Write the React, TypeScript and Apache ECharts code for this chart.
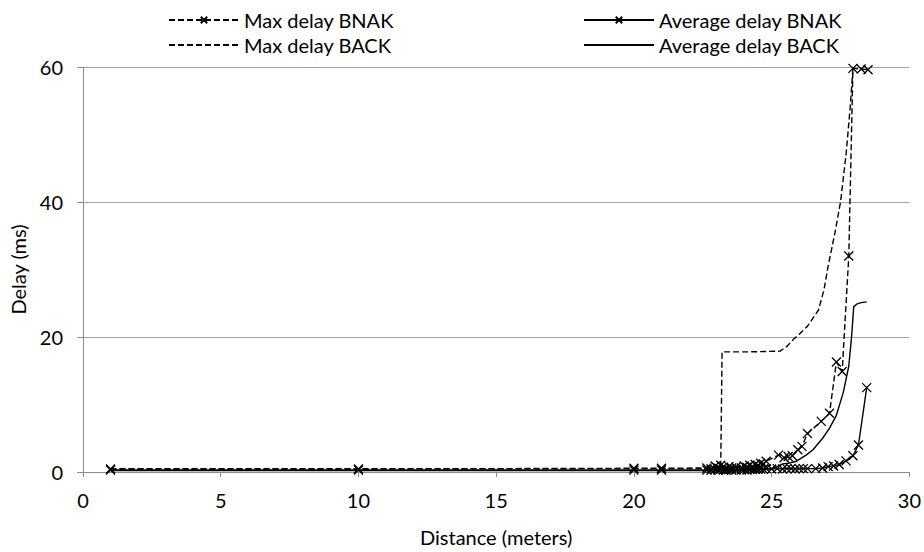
import React, { useEffect, useRef } from "react";
import * as echarts from "echarts";

const maxBnakX = [1, 10, 20, 21, 22.65, 22.8, 22.95, 23.05, 23.15, 23.25, 23.35, 23.45, 23.55, 23.7, 23.9, 24.0, 24.1, 24.2, 24.3, 24.4, 24.5, 24.6, 24.7, 24.8, 25.25, 25.45, 25.6, 25.75, 25.95, 26.1, 26.3, 26.8, 27.1, 27.35, 27.56, 27.8, 27.95, 28.25, 28.5];
const maxBnakY = [0.45, 0.45, 0.55, 0.55, 0.6, 0.5, 0.9, 0.6, 1.0, 0.7, 0.5, 0.8, 0.6, 0.7, 0.6, 0.9, 0.7, 1.0, 0.8, 1.1, 1.0, 1.3, 1.2, 1.6, 2.5, 2.1, 2.3, 2.4, 3.3, 3.8, 5.7, 7.5, 8.7, 16.3, 14.9, 32, 59.8, 59.7, 59.6];

const avgBnakX = [1, 10, 20, 21, 22.65, 22.8, 22.95, 23.05, 23.15, 23.25, 23.35, 23.45, 23.55, 23.7, 23.9, 24.0, 24.1, 24.2, 24.3, 24.4, 24.5, 24.6, 24.7, 24.8, 25.0, 25.2, 25.4, 25.55, 25.7, 25.85, 26.0, 26.15, 26.3, 26.6, 26.85, 27.05, 27.25, 27.45, 27.7, 27.95, 28.15, 28.45];
const avgBnakY = [0.3, 0.3, 0.3, 0.3, 0.3, 0.25, 0.35, 0.3, 0.4, 0.3, 0.25, 0.35, 0.3, 0.3, 0.3, 0.35, 0.3, 0.4, 0.35, 0.4, 0.4, 0.45, 0.4, 0.5, 0.45, 0.5, 0.45, 0.5, 0.5, 0.45, 0.5, 0.5, 0.5, 0.5, 0.6, 0.8, 0.9, 1.1, 1.65, 2.4, 4.0, 12.5];

const maxBackX = [1, 10, 20, 21, 22.7, 23.15, 23.2, 24.2, 25.3, 25.55, 25.8, 26.0, 26.3, 26.7, 26.9, 27.05, 27.3, 27.5, 27.7, 27.85, 27.95];
const maxBackY = [0.5, 0.5, 0.5, 0.5, 0.5, 0.5, 17.8, 17.8, 17.9, 18.6, 19.7, 20.4, 21.6, 24.0, 27.0, 30.5, 35.5, 40, 47, 54, 59.8];

const avgBackX = [1, 10, 20, 21, 22.7, 23.5, 24.3, 24.8, 25.1, 25.4, 25.6, 25.9, 26.25, 26.5, 26.85, 27.1, 27.35, 27.6, 27.8, 27.9, 27.98, 28.1, 28.25, 28.45];
const avgBackY = [0.2, 0.2, 0.2, 0.2, 0.2, 0.25, 0.3, 0.4, 0.6, 1.2, 1.3, 1.6, 2.5, 3.3, 5.0, 6.5, 8.4, 11.8, 15.7, 20, 24.5, 24.9, 25.1, 25.2];

const seriesNames = ["Max delay BNAK", "Average delay BNAK", "Max delay BACK", "Average delay BACK"];
const xTicks = { min: 0, max: 30, interval: 5 };
const yTicks = { min: 0, max: 60, interval: 20 };

const zip = (xs: number[], ys: number[]) => xs.map((x, i) => [x, ys[i]]);

const FONT = "Lato";
const CROSS = "path://M0,0L10,10M10,0L0,10";

export default function App() {
  const ref = useRef<HTMLDivElement>(null);
  useEffect(() => {
    if (!ref.current) return;
    const chart = echarts.init(ref.current, undefined, { renderer: "svg" });
    const legendBase = {
      orient: "horizontal",
      itemWidth: 70,
      itemHeight: 8,
      itemGap: 0,
      padding: 0,
      textStyle: { fontFamily: FONT, fontSize: 20, color: "#000", lineHeight: 24 },
    };
    const hidden = { opacity: 0, color: "transparent", borderWidth: 0 };
    chart.setOption({
      animation: false,
      backgroundColor: "#fff",
      textStyle: { fontFamily: FONT },
      legend: [
        { ...legendBase, left: 168, top: 8, data: [seriesNames[0]] },
        { ...legendBase, left: 168, top: 33, data: [{ name: seriesNames[2], itemStyle: hidden }] },
        { ...legendBase, left: 583, top: 8, data: [seriesNames[1]] },
        { ...legendBase, left: 583, top: 33, data: [{ name: seriesNames[3], itemStyle: hidden }] },
      ],
      grid: { left: 80, right: 14, top: 67, bottom: 75, containLabel: false },
      xAxis: {
        type: "value",
        ...xTicks,
        name: "Distance (meters)",
        nameLocation: "middle",
        nameGap: 55,
        nameTextStyle: { fontFamily: FONT, fontSize: 20, color: "#000" },
        axisLine: { show: true, lineStyle: { color: "#8c8c8c", width: 1 } },
        axisTick: { show: true, inside: false, length: 5, lineStyle: { color: "#8c8c8c" } },
        axisLabel: { fontFamily: FONT, fontSize: 20, color: "#000", margin: 18 },
        splitLine: { show: false },
      },
      yAxis: {
        type: "value",
        ...yTicks,
        name: "Delay (ms)",
        nameLocation: "middle",
        nameGap: 55,
        nameRotate: 90,
        nameTextStyle: { fontFamily: FONT, fontSize: 20, color: "#000" },
        axisLine: { show: true, lineStyle: { color: "#8c8c8c", width: 1 } },
        axisTick: { show: true, inside: false, length: 6, lineStyle: { color: "#8c8c8c" } },
        axisLabel: { fontFamily: FONT, fontSize: 20, color: "#000", margin: 20 },
        splitLine: { show: true, lineStyle: { color: "#a6a6a6", width: 1 } },
      },
      series: [
        {
          name: seriesNames[0],
          type: "line",
          data: zip(maxBnakX, maxBnakY),
          symbol: CROSS,
          symbolSize: 9,
          showAllSymbol: true,
          lineStyle: { color: "#000", width: 1.4, type: [6, 3] },
          itemStyle: { color: "#000", borderColor: "#000", borderWidth: 1.3 },
          z: 4,
        },
        {
          name: seriesNames[1],
          type: "line",
          data: zip(avgBnakX, avgBnakY),
          symbol: CROSS,
          symbolSize: 9,
          showAllSymbol: true,
          lineStyle: { color: "#000", width: 1.4, type: "solid" },
          itemStyle: { color: "#000", borderColor: "#000", borderWidth: 1.3 },
          z: 4,
        },
        {
          name: seriesNames[2],
          type: "line",
          data: zip(maxBackX, maxBackY),
          symbol: "none",
          lineStyle: { color: "#000", width: 1.4, type: [6, 3] },
          itemStyle: { color: "#000" },
          z: 3,
        },
        {
          name: seriesNames[3],
          type: "line",
          data: zip(avgBackX, avgBackY),
          symbol: "none",
          lineStyle: { color: "#000", width: 1.4, type: "solid" },
          itemStyle: { color: "#000" },
          z: 3,
        },
      ],
    });
    return () => chart.dispose();
  }, []);
  return <div ref={ref} style={{ width: 924, height: 552, position: "absolute", left: 0, top: 0 }} />;
}
